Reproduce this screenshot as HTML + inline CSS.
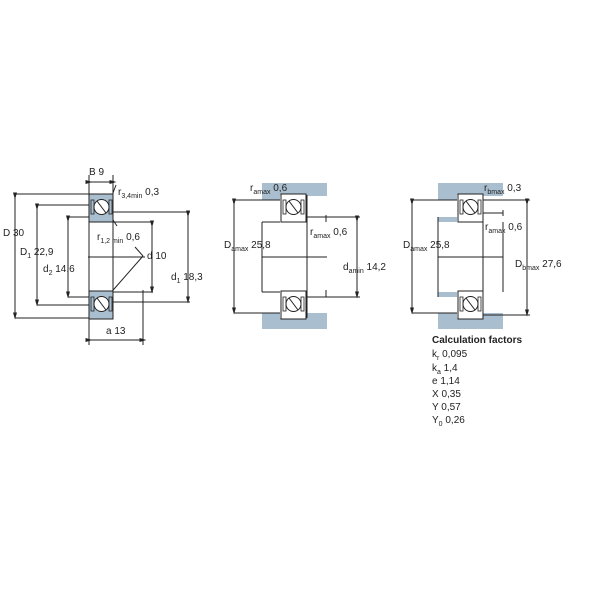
<!DOCTYPE html>
<html><head><meta charset="utf-8"><style>
body{margin:0;background:#fff}
svg{display:block}
text{font-family:"Liberation Sans",sans-serif;font-size:10px;fill:#222}
.s{font-size:7px}
</style></head><body>
<svg width="600" height="600" viewBox="0 0 600 600">
<defs>
<marker id="a" markerWidth="7" markerHeight="7" refX="3.5" refY="3.5" orient="auto"><path d="M0,1.5 L7,3.5 L0,5.5z" fill="#222"/></marker>
<g id="inner">
 <rect x="2" y="6" width="3" height="14" fill="none" stroke="#222" stroke-width="0.8"/>
 <rect x="20" y="6" width="3" height="14" fill="none" stroke="#222" stroke-width="0.8"/>
 <circle cx="12.5" cy="13" r="7.5" fill="#fff" stroke="#222" stroke-width="1"/>
 <line x1="8" y1="7" x2="17" y2="19" stroke="#222" stroke-width="1"/>
</g>
<g id="brg">
 <rect x="0" y="0" width="25" height="28" fill="#fff" stroke="#222" stroke-width="1"/>
 <use href="#inner"/>
</g>
<g id="brgb">
 <rect x="0" y="0" width="24" height="28" fill="#a9bfcf" stroke="#222" stroke-width="1"/>
 <use href="#inner"/>
</g>
</defs>
<g stroke="#222" stroke-width="1" fill="none">
<!-- Bearing 1 -->
<line x1="89" y1="194" x2="89" y2="345"/><line x1="113" y1="194" x2="113" y2="318"/>
<line x1="89" y1="175" x2="89" y2="194"/><line x1="113" y1="175" x2="113" y2="194"/>
<line x1="89" y1="182" x2="113" y2="182" marker-start="url(#a)" marker-end="url(#a)"/>
<line x1="15" y1="194" x2="89" y2="194"/><line x1="15" y1="318" x2="89" y2="318"/>
<line x1="15" y1="196" x2="15" y2="316" marker-start="url(#a)" marker-end="url(#a)"/>
<line x1="37" y1="205" x2="89" y2="205"/><line x1="37" y1="305" x2="89" y2="305"/>
<line x1="37" y1="207" x2="37" y2="303" marker-start="url(#a)" marker-end="url(#a)"/>
<line x1="68" y1="217" x2="89" y2="217"/><line x1="68" y1="297" x2="89" y2="297"/>
<line x1="68" y1="219" x2="68" y2="295" marker-start="url(#a)" marker-end="url(#a)"/>
<line x1="113" y1="222" x2="153" y2="222"/><line x1="113" y1="292" x2="153" y2="292"/>
<line x1="152" y1="224" x2="152" y2="290" marker-start="url(#a)" marker-end="url(#a)"/>
<line x1="113" y1="212" x2="190" y2="212"/><line x1="113" y1="302" x2="190" y2="302"/>
<line x1="188" y1="214" x2="188" y2="300" marker-start="url(#a)" marker-end="url(#a)"/>
<line x1="88" y1="257" x2="145" y2="257"/>
<line x1="143" y1="290" x2="143" y2="345"/>
<line x1="89" y1="340" x2="143" y2="340" marker-start="url(#a)" marker-end="url(#a)"/>
<line x1="143" y1="256" x2="100" y2="305"/>
<line x1="143" y1="256" x2="135" y2="247"/>
<line x1="113" y1="220" x2="117" y2="226"/>
<line x1="116" y1="185" x2="113" y2="193"/>
<!-- Bearing 2 -->
<path d="M262 183 H327 V196 H307 V195 H280 V200 H262 Z" fill="#a9bfcf" stroke="none"/>
<path d="M262 313 H280 V318 H307 V313 H327 V329 H262 Z" fill="#a9bfcf" stroke="none"/>
<line x1="234" y1="200" x2="280" y2="200"/><line x1="234" y1="313" x2="280" y2="313"/>
<line x1="234" y1="202" x2="234" y2="311" marker-start="url(#a)" marker-end="url(#a)"/>
<line x1="262" y1="222" x2="280" y2="222"/><line x1="262" y1="292" x2="280" y2="292"/>
<line x1="262" y1="222" x2="262" y2="292"/>
<line x1="307" y1="217" x2="360" y2="217"/><line x1="307" y1="297" x2="360" y2="297"/>
<line x1="357" y1="219" x2="357" y2="295" marker-start="url(#a)" marker-end="url(#a)"/>
<line x1="326" y1="215" x2="326" y2="222"/>
<line x1="326" y1="290" x2="326" y2="297"/>
<line x1="262" y1="257" x2="327" y2="257"/>
<line x1="307" y1="195" x2="307" y2="318"/>
<!-- Bearing 3 -->
<path d="M438 183 H503 V196 H483 V195 H457 V200 H438 Z" fill="#a9bfcf" stroke="none"/>
<rect x="438" y="217" width="19" height="5" fill="#a9bfcf" stroke="none"/>
<rect x="438" y="292" width="19" height="5" fill="#a9bfcf" stroke="none"/>
<path d="M438 313 H457 V318 H483 V313 H503 V329 H438 Z" fill="#a9bfcf" stroke="none"/>
<line x1="412" y1="200" x2="457" y2="200"/><line x1="412" y1="313" x2="457" y2="313"/>
<line x1="412" y1="202" x2="412" y2="311" marker-start="url(#a)" marker-end="url(#a)"/>
<line x1="438" y1="217" x2="438" y2="297"/>
<line x1="483" y1="200" x2="530" y2="200"/><line x1="483" y1="315" x2="530" y2="315"/>
<line x1="527" y1="202" x2="527" y2="313" marker-start="url(#a)" marker-end="url(#a)"/>
<line x1="483" y1="213" x2="503" y2="213"/><line x1="503" y1="210" x2="503" y2="216"/>
<line x1="503" y1="222" x2="503" y2="292"/>
<line x1="438" y1="257" x2="503" y2="257"/>
<line x1="483" y1="195" x2="483" y2="318"/>
</g>
<use href="#brgb" x="89" y="194"/>
<use href="#brgb" x="89" y="291"/>
<use href="#brg" x="281" y="194"/>
<use href="#brg" x="281" y="291"/>
<use href="#brg" x="458" y="194"/>
<use href="#brg" x="458" y="291"/>
<!-- text -->
<text x="89" y="175">B  9</text>
<text x="118" y="195">r<tspan class="s" dy="3">3,4min</tspan><tspan dy="-3">  0,3</tspan></text>
<text x="3" y="236">D  30</text>
<text x="20" y="255">D<tspan class="s" dy="3">1</tspan><tspan dy="-3">  22,9</tspan></text>
<text x="43" y="272">d<tspan class="s" dy="3">2</tspan><tspan dy="-3">  14,6</tspan></text>
<text x="97" y="240">r<tspan class="s" dy="3">1,2 min</tspan><tspan dy="-3">  0,6</tspan></text>
<text x="147" y="259">d  10</text>
<text x="171" y="280">d<tspan class="s" dy="3">1</tspan><tspan dy="-3">  18,3</tspan></text>
<text x="106" y="334">a  13</text>
<text x="250" y="191">r<tspan class="s" dy="3">amax</tspan><tspan dy="-3">  0,6</tspan></text>
<text x="310" y="235">r<tspan class="s" dy="3">amax</tspan><tspan dy="-3">   0,6</tspan></text>
<text x="224" y="248">D<tspan class="s" dy="3">amax</tspan><tspan dy="-3">  25,8</tspan></text>
<text x="343" y="270">d<tspan class="s" dy="3">amin</tspan><tspan dy="-3">  14,2</tspan></text>
<text x="484" y="191">r<tspan class="s" dy="3">bmax</tspan><tspan dy="-3">  0,3</tspan></text>
<text x="485" y="230">r<tspan class="s" dy="3">amax</tspan><tspan dy="-3">   0,6</tspan></text>
<text x="403" y="248">D<tspan class="s" dy="3">amax</tspan><tspan dy="-3">  25,8</tspan></text>
<text x="515" y="267">D<tspan class="s" dy="3">bmax</tspan><tspan dy="-3">  27,6</tspan></text>
<text x="432" y="343" style="font-weight:bold">Calculation factors</text>
<text x="432" y="357">k<tspan class="s" dy="3">r</tspan><tspan dy="-3">  0,095</tspan></text>
<text x="432" y="371">k<tspan class="s" dy="3">a</tspan><tspan dy="-3">  1,4</tspan></text>
<text x="432" y="384">e  1,14</text>
<text x="432" y="397">X  0,35</text>
<text x="432" y="410">Y  0,57</text>
<text x="432" y="423">Y<tspan class="s" dy="3">0</tspan><tspan dy="-3">  0,26</tspan></text>
</svg>
</body></html>
